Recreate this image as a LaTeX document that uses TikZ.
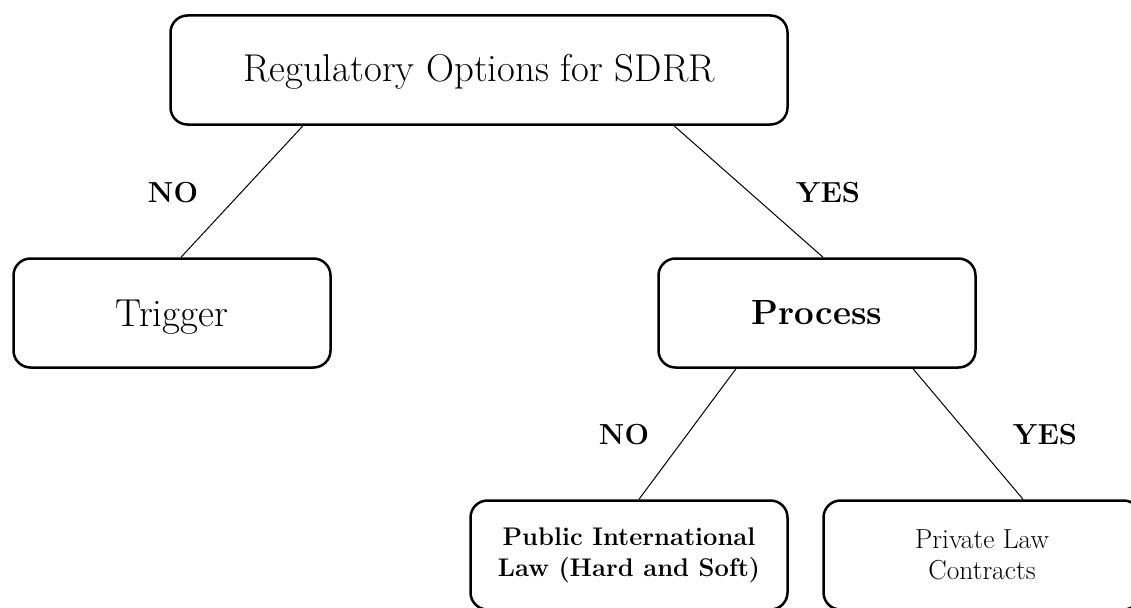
\documentclass[tikz,border=0pt]{standalone}
\usepackage{fontspec}
\begin{document}
\begin{tikzpicture}[x=1pt,y=-1pt,
  box/.style={draw, line width=2.5pt, rounded corners=17pt, minimum width=317pt,
    minimum height=109pt, inner sep=0pt, align=center},
  conn/.style={line width=1pt},
  lbl/.style={font=\fontsize{29}{32}\selectfont\bfseries, inner sep=0pt}]
\useasboundingbox (0,0) rectangle (1131,607);
\clip (0,0) rectangle (1131,607);
\fill[white] (0,0) rectangle (1131,607);
\node[box, minimum width=617pt, font=\fontsize{38.8}{43}\selectfont,
  text height=24pt, text depth=0pt] (top) at (479,70) {Regulatory Options for SDRR};
\node[box, font=\fontsize{39}{44}\selectfont, text height=26.6pt, text depth=0pt]
  (trig) at (172,313) {Trigger};
\node[box, font=\fontsize{35}{40}\selectfont\bfseries, text height=22pt, text depth=0pt]
  (proc) at (817,313) {Process};
\node[box, font=\fontsize{25.5}{31}\selectfont\bfseries] (pil) at (629,555)
  {Public International\\Law (Hard and Soft)};
\node[box, font=\fontsize{27.5}{31}\selectfont] (priv) at (982,555)
  {Private Law\\Contracts};
\draw[conn] ([xshift=-176pt]top.south) -- ([xshift=9pt]trig.north);
\draw[conn] ([xshift=195pt]top.south) -- ([xshift=6pt]proc.north);
\draw[conn] ([xshift=-81pt]proc.south) -- ([xshift=10pt]pil.north);
\draw[conn] ([xshift=96pt]proc.south) -- ([xshift=41pt]priv.north);
\node[lbl] (no1) at (173,193) {NO};
\node[lbl] (yes1) at (828,193) {YES};
\node[lbl] (no2) at (624,435) {NO};
\node[lbl] (yes2) at (1045,435) {YES};
\end{tikzpicture}
\end{document}
